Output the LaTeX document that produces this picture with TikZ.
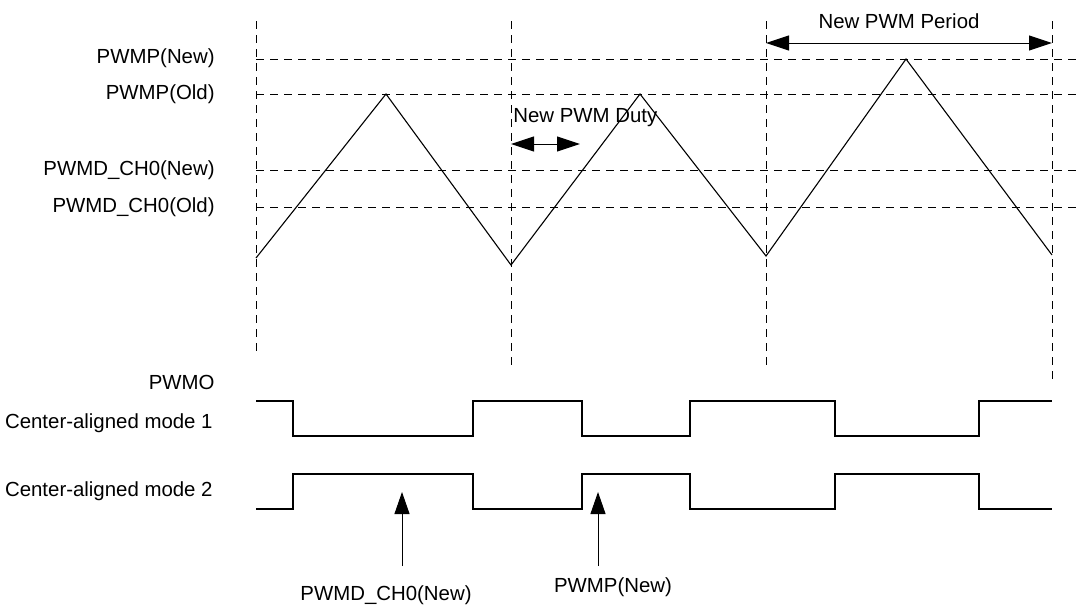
\documentclass[tikz,border=0pt]{standalone}
\usepackage{fontspec}
\setmainfont{Liberation Sans}
\usetikzlibrary{arrows.meta}

\tikzset{
  guide/.style={line width=0.5pt, dash pattern=on 4pt off 3pt},
  wave/.style={line width=0.55pt},
  dimarrow/.style={line width=0.5pt, {Triangle[length=11.5pt,width=7.5pt]}-{Triangle[length=11.5pt,width=7.5pt]}},
  markarrow/.style={line width=0.5pt, -{Triangle[length=11pt,width=7.5pt]}},
  lbl/.style={font=\fontsize{10.2}{12}\selectfont, inner sep=0pt}
}

\begin{document}
\begin{tikzpicture}[x=0.5pt,y=-0.5pt]
    \useasboundingbox (0,0) rectangle (1081,606);
    % --- GUIDE LINES ---
    \foreach \x/\yend in {256/355,511/366,766/366,1052/383}
        \draw[guide] (\x,21) -- (\x,\yend);
    \foreach \y in {59,94,170,207}
        \draw[guide] (256,\y) -- (1081,\y);
    \node[lbl,anchor=east] (pwmpNew) at (215,58) {PWMP(New)};
    \node[lbl,anchor=east] (pwmpOld) at (215,94) {PWMP(Old)};
    \node[lbl,anchor=east] (cmpNew) at (215,170) {PWMD\_CH0(New)};
    \node[lbl,anchor=east] (cmpOld) at (215,207) {PWMD\_CH0(Old)};

    % --- COUNTER (TRIANGLE) ---
    \draw[wave] (256,258) -- (386,94) -- (511,265) -- (640,94) -- (766,256) -- (906,59) -- (1052,255);

    \coordinate (perA) at (766,43);
    \coordinate (perB) at (1052,43);
    \draw[dimarrow] (perA) -- (perB);
    \node[lbl] (perLbl) at (899,21) {New PWM Period};

    \coordinate (dutyA) at (511,144);
    \coordinate (dutyB) at (580,144);
    \draw[dimarrow] (dutyA) -- (dutyB);
    \node[lbl,anchor=west] (dutyLbl) at (513,118) {New PWM Duty};

    % --- OUTPUTS ---
    \node[lbl,anchor=east] (pwmo) at (215,382) {PWMO};
    \node[lbl,anchor=east] (modeOne) at (213,423) {Center-aligned mode 1};
    \node[lbl,anchor=east] (modeTwo) at (213,491) {Center-aligned mode 2};
    \draw[wave] (256,401) -| (293,436) -| (473,401) -| (582,436) -| (690,401) -| (835,436) -| (979,401) -- (1052,401);
    \draw[wave] (256,509) -| (293,474) -| (473,509) -| (582,474) -| (690,509) -| (835,474) -| (979,509) -- (1052,509);

    \coordinate (cmpTail) at (402,566);
    \coordinate (cmpTip) at (402,492);
    \draw[markarrow] (cmpTail) -- (cmpTip);
    \node[lbl] (cmpLoad) at (386,595) {PWMD\_CH0(New)};
    \coordinate (perTail) at (598,566);
    \coordinate (perTip) at (598,492);
    \draw[markarrow] (perTail) -- (perTip);
    \node[lbl] (perLoad) at (613,587) {PWMP(New)};
\end{tikzpicture}
\end{document}
